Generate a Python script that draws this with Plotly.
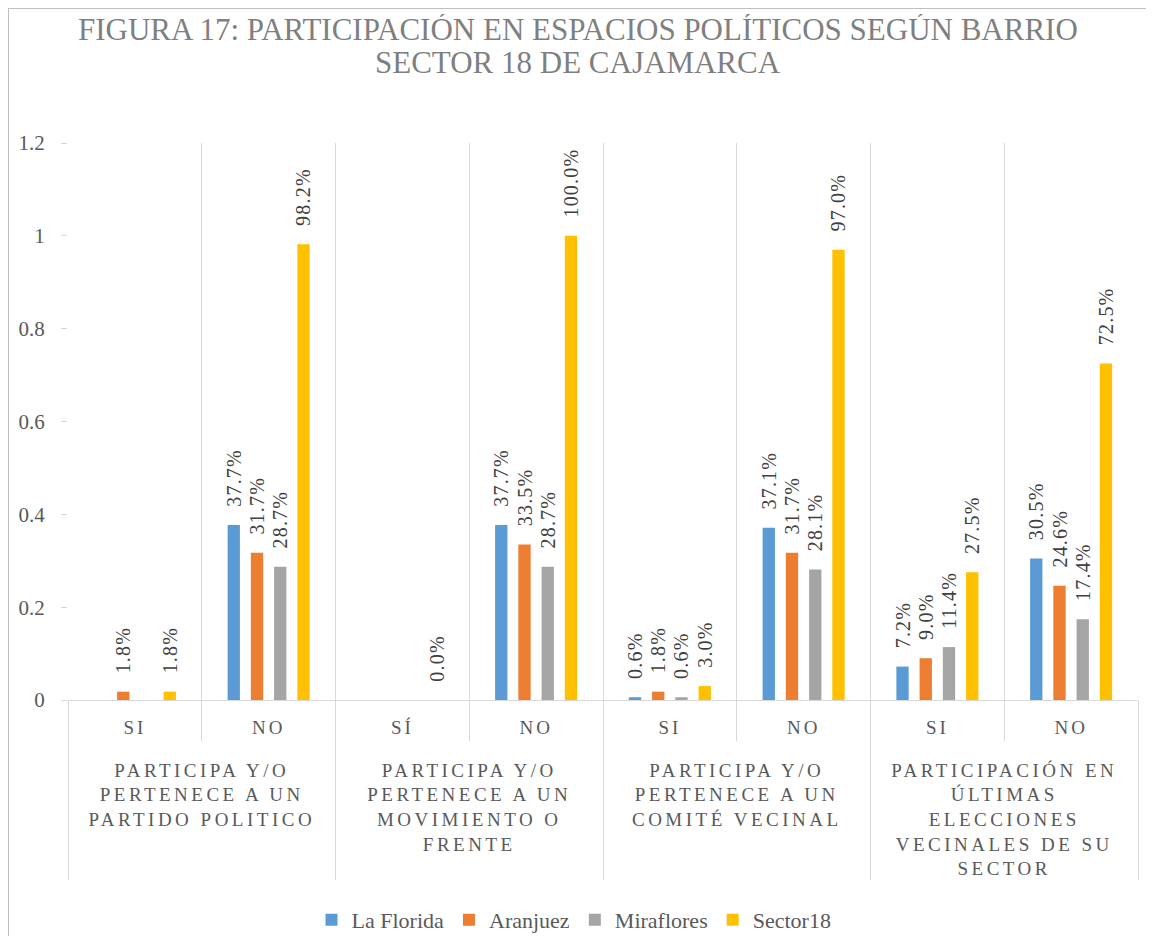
import plotly.graph_objects as go

# ---------------- data ----------------
series_names = ["La Florida", "Aranjuez", "Miraflores", "Sector18"]
series_colors = ["#5B9BD5", "#ED7D31", "#A5A5A5", "#FFC000"]

group_lines = [
    ["PARTICIPA Y/O", "PERTENECE A UN", "PARTIDO POLITICO"],
    ["PARTICIPA Y/O", "PERTENECE A UN", "MOVIMIENTO O", "FRENTE"],
    ["PARTICIPA Y/O", "PERTENECE A UN", "COMITÉ VECINAL"],
    ["PARTICIPACIÓN EN", "ÚLTIMAS", "ELECCIONES", "VECINALES DE SU", "SECTOR"],
]
answers = ["SI", "NO", "SÍ", "NO", "SI", "NO", "SI", "NO"]
answer_group = [0, 0, 1, 1, 2, 2, 3, 3]

la_florida = [None, 0.377, None, 0.377, 0.006, 0.371, 0.072, 0.305]
aranjuez = [0.018, 0.317, None, 0.335, 0.018, 0.317, 0.090, 0.246]
miraflores = [None, 0.287, None, 0.287, 0.006, 0.281, 0.114, 0.174]
sector18 = [0.018, 0.982, 0.000, 1.000, 0.030, 0.970, 0.275, 0.725]

title_lines = ["FIGURA 17: PARTICIPACIÓN EN ESPACIOS POLÍTICOS SEGÚN BARRIO",
               "SECTOR 18 DE CAJAMARCA"]

# ---------------- helpers ----------------
SERIF = "Liberation Serif, Times New Roman, serif"
NB = "\u00a0"

def spaced(lines, px):
    return "<br>".join(f"<span style='letter-spacing:{px}px'>{l}</span>" for l in lines)

outer = [spaced(group_lines[g], 3.5) for g in answer_group]
# second, invisible line makes room between the two label levels
inner = [spaced([a], 3) + f"<br><span style='font-size:40px'>{NB}</span>" for a in answers]

# multicategory ordering follows first appearance of each inner label:
# feed the SI/SÍ points first so every group shows SI before NO
order = sorted(range(len(answers)), key=lambda i: answers[i] == "NO")

OFF = 8  # page body margin
W, H = 1154 - OFF, 936 - OFF
L, R, T, B = 68 - OFF, 1154 - 1138, 143 - OFF, 936 - 700
PW, PH = W - L - R, H - T - B

def px_x(sx):  # screen x -> paper
    return (sx - OFF - L) / PW

def px_y(sy):  # screen y -> paper
    return (H - B - (sy - OFF)) / PH

fig = go.Figure()
for name, color, vals in zip(series_names, series_colors,
                             [la_florida, aranjuez, miraflores, sector18]):
    labels = ["" if v is None else spaced([f"{NB}{NB}\u200a{v*100:.1f}%"], 1.2) for v in vals]
    fig.add_trace(go.Bar(
        x=[[outer[i] for i in order], [inner[i] for i in order]],
        y=[vals[i] for i in order],
        text=[labels[i] for i in order],
        name=name,
        marker=dict(color=color, line=dict(width=0)),
        textposition="outside", textangle=-90, constraintext="none",
        textfont=dict(family=SERIF, size=20, color="#404040"),
        cliponaxis=False,
    ))

# title lines
for line, sy in zip(title_lines, [30, 63]):
    fig.add_annotation(text=line, xref="paper", yref="paper",
                       x=px_x(578), y=px_y(sy), xanchor="center", yanchor="middle",
                       height=31, valign="middle", showarrow=False,
                       font=dict(family=SERIF, size=31, color="#7f7f7f"))

# chart border
fig.add_shape(type="rect", xref="paper", yref="paper",
              x0=px_x(8), x1=px_x(1147), y0=px_y(960), y1=px_y(8),
              line=dict(color="#bfbfbf", width=2), layer="below")

fig.update_layout(
    width=W, height=H, autosize=False,
    margin=dict(l=L, r=R, t=T, b=B, autoexpand=False),
    paper_bgcolor="white", plot_bgcolor="white",
    barmode="group", bargap=0.305, bargroupgap=0.47,
    font=dict(family=SERIF, color="#595959"),
    showlegend=True,
    legend=dict(orientation="h", x=px_x(574), xanchor="center",
                y=px_y(920), yanchor="middle",
                font=dict(family=SERIF, size=22, color="#595959"),
                itemwidth=30),
    xaxis=dict(type="multicategory", automargin=False,
               showgrid=True, gridcolor="#d9d9d9", gridwidth=1,
               tickson="boundaries", ticks="outside", ticklen=40, tickcolor="#d9d9d9",
               showline=True, linecolor="#d9d9d9", linewidth=1,
               showdividers=True, dividercolor="#d9d9d9", dividerwidth=1,
               ticklabelstandoff=10,
               tickfont=dict(family=SERIF, size=19, color="#595959")),
    yaxis=dict(range=[0, 1.2], dtick=0.2, showgrid=False, zeroline=False,
               automargin=False,
               ticks="outside", ticklen=6, tickcolor="#d9d9d9", showline=False,
               ticklabelstandoff=12,
               tickfont=dict(family=SERIF, size=21, color="#595959")),
)

fig.write_html("out.html")
